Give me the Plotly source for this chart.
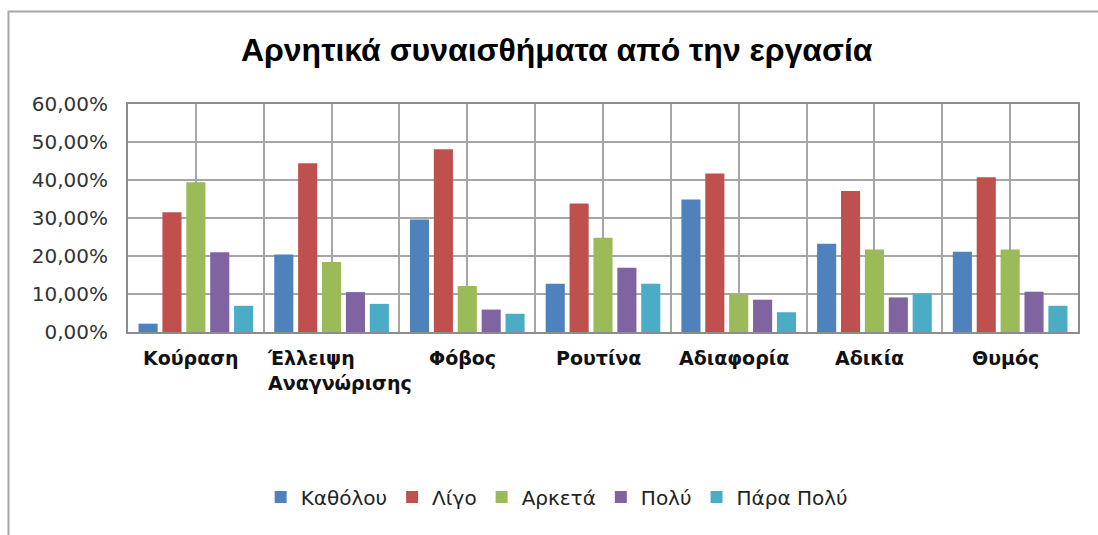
import plotly.graph_objects as go

categories = ["Κούραση", "Έλλειψη<br>Αναγνώρισης", "Φόβος", "Ρουτίνα",
              "Αδιαφορία", "Αδικία", "Θυμός"]
series_names = ["Καθόλου", "Λίγο", "Αρκετά", "Πολύ", "Πάρα Πολύ"]

kathólou = [0.022, 0.204, 0.296, 0.127, 0.349, 0.232, 0.211]
ligo = [0.315, 0.444, 0.481, 0.338, 0.417, 0.371, 0.407]
arketa = [0.394, 0.184, 0.121, 0.248, 0.099, 0.217, 0.217]
poly = [0.210, 0.105, 0.059, 0.169, 0.085, 0.091, 0.106]
para_poly = [0.069, 0.074, 0.048, 0.127, 0.052, 0.101, 0.069]

y_ticks = [0, 0.1, 0.2, 0.3, 0.4, 0.5, 0.6]

colors = ["#4F81BD", "#C0504D", "#9BBB59", "#8064A2", "#4BACC6"]
values = [kathólou, ligo, arketa, poly, para_poly]

xs = list(range(len(categories)))

fig = go.Figure()
for name, vals, col in zip(series_names, values, colors):
    fig.add_trace(go.Bar(x=xs, y=vals, name=name, marker_color=col,
                         marker_line_width=0))

# category labels under each group, left-aligned lines
for i, cat in enumerate(categories):
    multiline = "<br>" in cat
    fig.add_annotation(x=i, y=0, xref="x", yref="paper", text=cat,
                       showarrow=False, xanchor="center", yanchor="top",
                       yshift=-13, xshift=8 if multiline else -5, align="left",
                       font=dict(family="DejaVu Sans", size=19, color="#111111",
                                 weight="bold"))

# outer chart frame
fig.add_shape(type="rect", xref="paper", yref="paper",
              x0=-0.1258, x1=1.2, y0=-1.2, y1=1.4057,
              line=dict(color="#A6A6A6", width=2), layer="below")

fig.update_layout(
    width=1098, height=535,
    margin=dict(l=128, r=20, t=104, b=203),
    paper_bgcolor="white", plot_bgcolor="white",
    separators=",.",
    barmode="group", bargap=0.12, bargroupgap=0.2,
    title=dict(text="<b>Αρνητικά συναισθήματα από την εργασία</b>",
               x=0.507, xanchor="center", y=0.9065, yanchor="middle",
               xref="container", yref="container",
               font=dict(family="Liberation Sans", size=32, color="#000000")),
    xaxis=dict(range=[-0.5, len(categories) - 0.5], tick0=-0.5, dtick=0.5,
               showticklabels=False, showgrid=True, gridcolor="#A6A6A6",
               gridwidth=2, zeroline=False, showline=True, linecolor="#8C8C8C",
               linewidth=2, mirror=True, fixedrange=True),
    yaxis=dict(range=[0, 0.6], tickvals=y_ticks, tickformat=".2%",
               showgrid=True, gridcolor="#A6A6A6", gridwidth=2,
               zeroline=False, showline=True, linecolor="#8C8C8C",
               linewidth=2, mirror=True, ticklabelstandoff=14,
               tickfont=dict(family="DejaVu Sans", size=20, color="#333333")),
    legend=dict(orientation="h", xref="container", yref="container",
                x=0.507, xanchor="center", y=1 - 497 / 535, yanchor="middle",
                itemwidth=30, traceorder="normal",
                font=dict(family="DejaVu Sans", size=20, color="#222222")),
    showlegend=True,
)

fig.write_html("out.html")
